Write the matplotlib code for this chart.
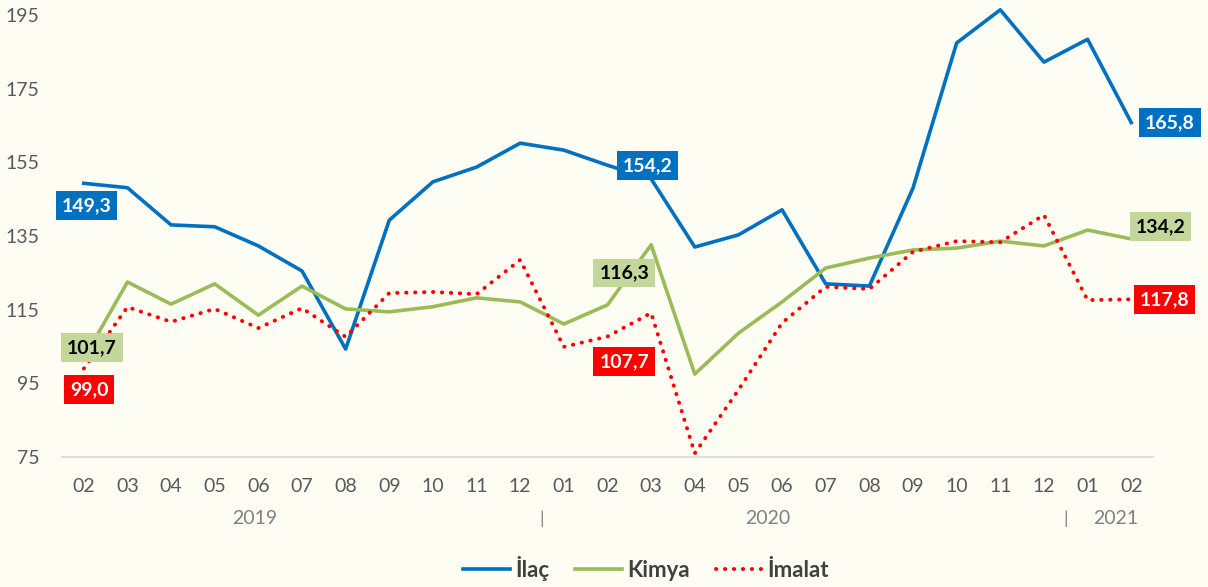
import matplotlib
matplotlib.use("Agg")
import matplotlib.pyplot as plt
import matplotlib.transforms as mtransforms

# ── Data ──────────────────────────────────────────────────────────────────────
months = ["02", "03", "04", "05", "06", "07", "08", "09", "10", "11", "12",
          "01", "02", "03", "04", "05", "06", "07", "08", "09", "10", "11", "12",
          "01", "02"]
years = ["2019", "2020", "2021"]

ilac = [149.3, 148.1, 138.0, 137.5, 132.3, 125.5, 104.3, 139.3, 149.7, 153.7,
        160.2, 158.3, 154.2, 150.5, 132.0, 135.3, 142.1, 122.0, 121.4, 148.0,
        187.4, 196.4, 182.2, 188.4, 165.8]
kimya = [101.7, 122.5, 116.5, 122.0, 113.5, 121.4, 115.2, 114.4, 115.8, 118.2,
         117.1, 111.1, 116.3, 132.6, 97.5, 108.6, 117.1, 126.3, 129.0, 131.2,
         131.7, 133.6, 132.3, 136.6, 134.2]
imalat = [99.0, 115.7, 111.7, 115.2, 110.0, 115.4, 107.6, 119.5, 119.8, 119.2,
          128.5, 104.9, 107.7, 114.1, 76.0, 93.2, 111.4, 121.2, 120.6, 130.7,
          133.6, 133.3, 140.7, 117.6, 117.8]

# indices of labelled points (Feb of each year)
label_idx = [0, 12, 24]

BLUE = "#0070C0"
GREEN = "#9BBB59"
GREEN_BOX = "#C4D79B"
RED = "#FF0000"
BG = "#FDFDF4"

plt.rcParams["font.family"] = ["Lato", "DejaVu Sans"]

fig = plt.figure(figsize=(12.08, 5.87), dpi=100, facecolor=BG)
ax = fig.add_axes([0.0513, 0.2215, 0.9032, 0.753])
ax.set_facecolor(BG)

x = list(range(len(months)))
ax.plot(x, ilac, color=BLUE, lw=2.6, label="İlaç", clip_on=False, zorder=3)
ax.plot(x, kimya, color=GREEN, lw=2.6, label="Kimya", clip_on=False, zorder=3)
ax.plot(x, imalat, color=RED, lw=2.8, linestyle=(0, (0.1, 2.2)),
        dash_capstyle="round", label="İmalat", clip_on=False, zorder=3)

ax.set_xlim(-0.5, len(months) - 0.5)
ax.set_ylim(75, 195)
ax.set_yticks(range(75, 196, 20))
ax.set_xticks(x)
ax.set_xticklabels(months)
ax.tick_params(axis="both", length=0, labelsize=14, colors="#595959")
ax.tick_params(axis="x", pad=15)
ax.tick_params(axis="y", pad=16)
for s in ["top", "right", "left"]:
    ax.spines[s].set_visible(False)
ax.spines["bottom"].set_color("#D9D9D9")
ax.spines["bottom"].set_linewidth(1.2)

# ── Year labels and separators ───────────────────────────────────────────────
trans = mtransforms.blended_transform_factory(ax.transData, ax.transAxes)
for xpos, yr in zip([3.92, 15.67, 23.65], years):
    ax.text(xpos, -0.14, yr, transform=trans, ha="center", va="center",
            fontsize=14, color="#808080")
for xpos in [10.5, 22.5]:
    ax.text(xpos, -0.14, "|", transform=trans, ha="center", va="center",
            fontsize=13, color="#808080")

# ── Data labels ──────────────────────────────────────────────────────────────
def fmt(v):
    return f"{v:.1f}".replace(".", ",")

offsets = {
    "ilac": [(2, -16), (29, 0), (28, 0)],
    "kimya": [(6, 8), (12, 23), (21, 9)],
    "imalat": [(4, -15), (12, -18), (24, 0)],
}
series = [("ilac", ilac, BLUE, "white"),
          ("kimya", kimya, GREEN_BOX, "black"),
          ("imalat", imalat, RED, "white")]
for key, vals, box, tc in series:
    for i, off in zip(label_idx, offsets[key]):
        ax.annotate(fmt(vals[i]), (x[i], vals[i]), xytext=off,
                    textcoords="offset points", ha="center", va="center",
                    fontsize=14, fontweight="bold", color=tc, zorder=5,
                    annotation_clip=False,
                    bbox=dict(boxstyle="square,pad=0.3", fc=box, ec="none"))

leg = fig.legend(loc="center", bbox_to_anchor=(0.535, 0.032), ncol=3,
                 frameon=False, fontsize=16, handlelength=2.1,
                 columnspacing=1.15, handletextpad=0.25)
for t in leg.get_texts():
    t.set_fontweight("bold")
    t.set_color("#404040")

fig.savefig("out.png", dpi=100, facecolor=BG)
